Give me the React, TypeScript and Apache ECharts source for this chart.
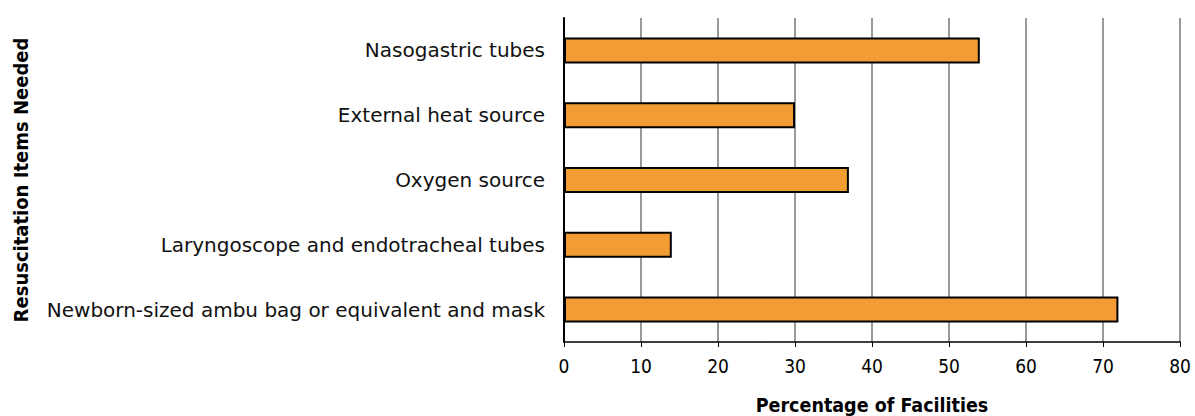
import React, { useEffect, useRef } from "react";
import * as echarts from "echarts";

const categories = [
  "Nasogastric tubes",
  "External heat source",
  "Oxygen source",
  "Laryngoscope and endotracheal tubes",
  "Newborn-sized ambu bag or equivalent and mask",
];
const values = [54, 30, 37, 14, 72];
const xTitle = "Percentage of Facilities";
const yTitle = "Resuscitation Items Needed";

const condensed = "'Liberation Sans Narrow', 'DejaVu Sans Condensed', Roboto, sans-serif";

export default function App() {
  const ref = useRef<HTMLDivElement>(null);
  useEffect(() => {
    document.body.style.margin = "0";
    const chart = echarts.init(ref.current!, null, { renderer: "svg" });
    chart.setOption({
      animation: false,
      grid: {
        left: 564,
        right: 15,
        top: 18,
        bottom: 74,
        containLabel: false,
        outerBoundsMode: "none",
      },
      xAxis: {
        type: "value",
        min: 0,
        max: 80,
        interval: 10,
        name: xTitle,
        nameLocation: "middle",
        nameGap: 53,
        nameMoveOverlap: false,
        nameTextStyle: {
          fontFamily: condensed,
          fontWeight: "bold",
          fontSize: 19.5,
          color: "#000",
        },
        axisLine: { show: true, lineStyle: { color: "#000", width: 1.5 } },
        axisTick: { show: true, length: 5, lineStyle: { color: "#000" } },
        axisLabel: {
          fontFamily: condensed,
          fontSize: 19,
          color: "#000",
          margin: 14,
        },
        splitLine: { show: true, lineStyle: { color: "#999", width: 2 } },
      },
      yAxis: {
        type: "category",
        data: categories,
        inverse: true,
        name: yTitle,
        nameLocation: "middle",
        nameGap: 533,
        nameRotate: 90,
        nameMoveOverlap: false,
        nameTextStyle: {
          fontFamily: condensed,
          fontWeight: "bold",
          fontSize: 20,
          color: "#000",
        },
        axisLine: { show: true, lineStyle: { color: "#000", width: 2 } },
        axisTick: { show: false },
        axisLabel: {
          fontFamily: "'DejaVu Sans', sans-serif",
          fontSize: 20,
          color: "#111",
          margin: 19,
        },
        splitLine: { show: false },
      },
      series: [
        {
          type: "bar",
          data: values,
          barWidth: 26,
          itemStyle: { color: "#F39C34", borderColor: "#000", borderWidth: 2 },
        },
      ],
    });
    return () => chart.dispose();
  }, []);
  return <div ref={ref} style={{ width: 1195, height: 416 }} />;
}
